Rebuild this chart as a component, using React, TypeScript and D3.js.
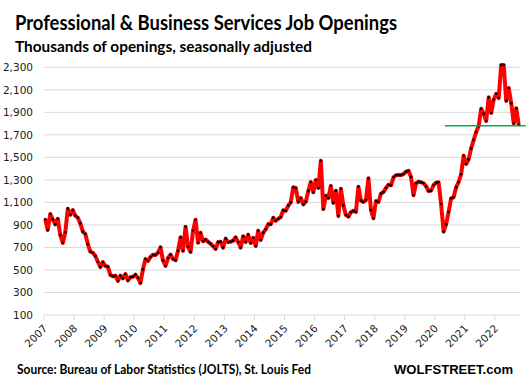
import * as d3 from "d3"

// Monthly job openings (thousands), Jan 2007 – Oct 2022
const y2007 = [952, 855, 997, 950, 905, 955, 810, 740, 835, 1044, 990, 1032]
const y2008 = [982, 964, 914, 840, 820, 730, 662, 653, 624, 573, 526, 570]
const y2009 = [535, 529, 455, 444, 449, 402, 449, 426, 464, 407, 435, 440]
const y2010 = [458, 429, 384, 506, 597, 580, 615, 635, 633, 653, 702, 584]
const y2011 = [535, 606, 636, 597, 586, 670, 790, 670, 884, 706, 660, 848]
const y2012 = [946, 742, 830, 755, 770, 750, 733, 712, 686, 748, 751, 698]
const y2013 = [778, 748, 751, 760, 790, 748, 698, 799, 748, 813, 739, 786]
const y2014 = [713, 849, 766, 831, 861, 908, 905, 964, 937, 955, 970, 1030]
const y2015 = [1025, 1072, 1100, 1234, 1228, 1104, 1139, 1083, 1106, 1201, 1281, 1190]
const y2016 = [1299, 1228, 1470, 1041, 1160, 1139, 1246, 1095, 1204, 979, 1222, 1074]
const y2017 = [988, 973, 1012, 1026, 1015, 1240, 1115, 1104, 1121, 1314, 1032, 959]
const y2018 = [1112, 1104, 1178, 1192, 1228, 1257, 1252, 1323, 1341, 1343, 1343, 1352]
const y2019 = [1373, 1381, 1326, 1163, 1270, 1284, 1279, 1270, 1243, 1201, 1204, 1254]
const y2020 = [1275, 1279, 1086, 840, 905, 1015, 1136, 1145, 1234, 1281, 1350, 1515]
const y2021 = [1441, 1482, 1580, 1654, 1725, 1778, 1932, 1888, 1823, 2033, 1894, 2012]
const y2022 = [2065, 2027, 2320, 2320, 2001, 2116, 1980, 1802, 1936, 1787]

const openings = [
  ...y2007, ...y2008, ...y2009, ...y2010, ...y2011, ...y2012, ...y2013, ...y2014,
  ...y2015, ...y2016, ...y2017, ...y2018, ...y2019, ...y2020, ...y2021, ...y2022,
]

const years = d3.range(2007, 2023)
const yTicks = d3.range(100, 2301, 200)

// green reference line (month index range, level)
const refLevel = 1780
const refFrom = 160
const refTo = 192.3

const W = 528
const H = 389
const left = 44
const right = 520
const top = 67.3
const bottom = 315

export default function App() {
  const nMonths = 190
  const x = d3.scaleLinear().domain([0, nMonths]).range([left, right])
  const y = d3.scaleLinear().domain([100, 2300]).range([bottom, top])

  const line = d3.line<number>()
    .x((_, i) => x(i + 0.5))
    .y((d) => y(d))

  const fmt = d3.format(",")
  const tickFont = "'DejaVu Sans', Verdana, sans-serif"
  const headFont = "Lato, 'Open Sans', sans-serif"

  return (
    <svg width={W} height={H} style={{ position: "absolute", left: 0, top: 0, background: "#fff" }}>
      <text x={15} y={30} fontFamily={headFont} fontWeight="bold" fontSize={20} fill="#000"
        textLength={382} lengthAdjust="spacingAndGlyphs">
        Professional &amp; Business Services Job Openings
      </text>
      <text x={15} y={52} fontFamily={headFont} fontWeight="bold" fontSize={15.5} fill="#000"
        textLength={297} lengthAdjust="spacingAndGlyphs">
        Thousands of openings, seasonally adjusted
      </text>

      {/* gridlines + y labels */}
      {yTicks.map((t) => (
        <g key={t}>
          <line x1={left} x2={right} y1={y(t)} y2={y(t)} stroke="#d9d9d9" strokeWidth={1} />
          <text x={33} y={y(t)} dy="0.36em" textAnchor="end" fontFamily={tickFont} fontSize={10.5} fill="#1a1a1a">
            {fmt(t)}
          </text>
        </g>
      ))}

      {/* x ticks + labels */}
      {years.map((yr, k) => {
        const tx = x(k * 12)
        return (
          <g key={yr}>
            <line x1={tx} x2={tx} y1={bottom} y2={bottom + 5} stroke="#d9d9d9" />
            <text
              transform={`translate(${tx + 4},${bottom + 14}) rotate(-45)`}
              textAnchor="end"
              fontFamily={tickFont}
              fontSize={10.5}
              fill="#1a1a1a"
            >
              {yr}
            </text>
          </g>
        )
      })}

      <path d={line(openings) || ""} fill="none" stroke="#ff0000" strokeWidth={4} strokeLinejoin="round" />
      {openings.map((d, i) => (
        <circle key={i} cx={x(i + 0.5)} cy={y(d)} r={1.35} fill="#000" />
      ))}

      <line x1={x(refFrom)} x2={x(refTo)} y1={y(refLevel)} y2={y(refLevel)} stroke="#00b050" strokeWidth={1.5} />

      <text x={17} y={374} fontFamily={headFont} fontWeight="bold" fontSize={12.5} fill="#000"
        textLength={294} lengthAdjust="spacingAndGlyphs">
        Source: Bureau of Labor Statistics (JOLTS), St. Louis Fed
      </text>
      <text x={394} y={374} fontFamily="'Liberation Sans', Arial, sans-serif" fontWeight="bold" fontSize={13.5} fill="#000"
        textLength={119} lengthAdjust="spacingAndGlyphs">
        WOLFSTREET.com
      </text>
    </svg>
  )
}
